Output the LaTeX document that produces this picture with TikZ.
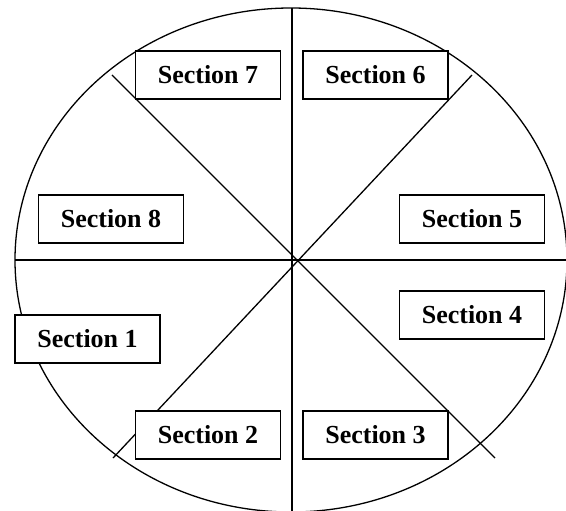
\documentclass[tikz,border=0pt]{standalone}
\usepackage{fontspec}
\setmainfont{Liberation Serif}
\begin{document}
\begin{tikzpicture}[x=1pt, y=-1pt,
    secbox/.style={draw, line width=1.6pt, fill=white, minimum width=145pt,
                   minimum height=48pt, inner sep=0pt,
                   font=\fontsize{26}{30}\selectfont\bfseries},
    divider/.style={line width=1.3pt}
]
    \useasboundingbox (0,0) rectangle (566,511);
    % outline and the four dividing lines
    \coordinate (c) at (291,260);
    \draw[divider] (c) ellipse [x radius=276pt, y radius=252pt];
    \coordinate (top) at (292,8);
    \coordinate (bot) at (292,511);
    \coordinate (lft) at (15,260);
    \coordinate (rgt) at (566,260);
    \coordinate (tl) at (112,75);
    \coordinate (br) at (495,458);
    \coordinate (tr) at (472,75);
    \coordinate (bl) at (113,458);
    \draw[divider] (top) -- (bot);
    \draw[divider] (lft) -- (rgt);
    \draw[divider] (tl) -- (br);
    \draw[divider] (tr) -- (bl);

    % section labels
    \node[secbox] (s7) at (208,75)    {Section 7};
    \node[secbox] (s6) at (375.5,75)  {Section 6};
    \node[secbox] (s8) at (111,219)   {Section 8};
    \node[secbox] (s5) at (472,219)   {Section 5};
    \node[secbox] (s4) at (472,315)   {Section 4};
    \node[secbox] (s1) at (87.5,339)  {Section 1};
    \node[secbox] (s2) at (208,435)   {Section 2};
    \node[secbox] (s3) at (375.5,435) {Section 3};
\end{tikzpicture}
\end{document}
